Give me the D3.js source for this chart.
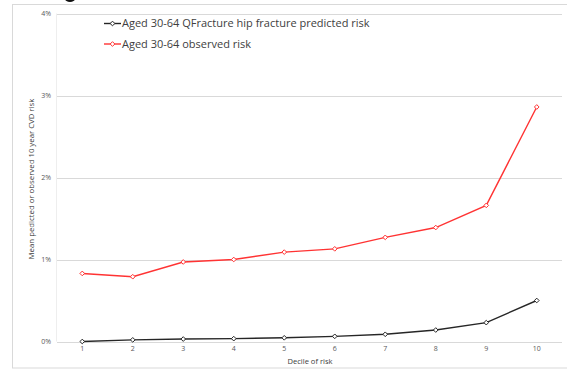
<!DOCTYPE html>
<html><head><meta charset="utf-8">
<script src="https://cdn.jsdelivr.net/npm/d3@7"></script>
<style>body{margin:0;background:#fff}svg{display:block}</style>
</head><body>
<script>
const deciles = [1,2,3,4,5,6,7,8,9,10];
const predicted = [0.0000,0.0002,0.0003,0.00035,0.00045,0.00063,0.00088,0.0014,0.0023,0.0050];
const observed = [0.0083,0.0079,0.0097,0.0100,0.0109,0.0113,0.0127,0.0139,0.0166,0.0286];
const yTicks = [0,0.01,0.02,0.03,0.04];
const seriesNames = ["Aged 30-64 QFracture hip fracture predicted risk","Aged 30-64 observed risk"];
const seriesColors = ["#262626","#ff3333"];

const W=567,H=369;
const svg=d3.select("body").append("svg").attr("width",W).attr("height",H);
const font="'Open Sans', Lato, sans-serif";

// outer chart border
svg.append("rect").attr("x",12.5).attr("y",4.5).attr("width",W).attr("height",363.5)
  .attr("fill","none").attr("stroke","#d9d9d9").attr("stroke-width",1);
// cut-off title glyph at top
svg.append("ellipse").attr("cx",70).attr("cy",-1).attr("rx",5).attr("ry",3).attr("fill","#111");

const x=d3.scaleBand().domain(deciles).range([57,562]);
const y=d3.scaleLinear().domain([0,0.04]).range([341.5,13.5]);

// gridlines
svg.append("g").selectAll("line").data(yTicks).join("line")
  .attr("x1",57).attr("x2",562).attr("y1",d=>Math.round(y(d))+0.5).attr("y2",d=>Math.round(y(d))+0.5)
  .attr("stroke","#d9d9d9").attr("stroke-width",1);
svg.append("line").attr("x1",56.5).attr("x2",56.5).attr("y1",y(0.04)).attr("y2",y(0))
  .attr("stroke","#eeeeee");

// y axis
const ya=svg.append("g").attr("transform","translate(51,0)")
  .call(d3.axisLeft(y).tickValues(yTicks).tickFormat(d3.format(".0%")).tickSize(0).tickPadding(0));
ya.select(".domain").remove();
ya.selectAll("text").attr("font-family",font).attr("font-size",7).attr("fill","#595959").attr("dy","0.32em");

// x axis
const xa=svg.append("g").attr("transform","translate(0,346)")
  .call(d3.axisBottom(x).tickSize(0).tickPadding(0));
xa.select(".domain").remove();
xa.selectAll("text").attr("font-family",font).attr("font-size",7).attr("fill","#595959").attr("dy","0.71em");

svg.append("text").attr("x",310).attr("y",364).attr("text-anchor","middle")
  .attr("font-family",font).attr("font-size",7.6).attr("fill","#404040").text("Decile of risk");
svg.append("text").attr("transform","translate(34,179) rotate(-90)").attr("text-anchor","middle")
  .attr("font-family",font).attr("font-size",7.8).attr("fill","#404040")
  .text("Mean pedicted or observed 10 year CVD risk");

const line=d3.line().x((d,i)=>x(deciles[i])+x.bandwidth()/2).y(d=>y(d));
const diamond=d3.symbol().type(d3.symbolDiamond2).size(14);
[observed,predicted].forEach((vals,k)=>{
  const idx = k===0?1:0;
  const c=seriesColors[idx];
  svg.append("path").datum(vals).attr("d",line).attr("fill","none").attr("stroke",c).attr("stroke-width",1.4);
  svg.append("g").selectAll("path").data(vals).join("path")
    .attr("transform",(d,i)=>`translate(${x(deciles[i])+x.bandwidth()/2},${y(d)})`)
    .attr("d",diamond).attr("fill","#fff").attr("stroke",c).attr("stroke-width",1);
});

// legend
seriesNames.forEach((n,i)=>{
  const ly=[23.5,44][i];
  const g=svg.append("g");
  g.append("line").attr("x1",104).attr("x2",121).attr("y1",ly).attr("y2",ly).attr("stroke",seriesColors[i]).attr("stroke-width",1.4);
  g.append("path").attr("transform",`translate(112.5,${ly})`).attr("d",diamond).attr("fill","#fff").attr("stroke",seriesColors[i]);
  g.append("text").attr("x",122).attr("y",ly).attr("dy","0.35em").attr("font-family",font)
    .attr("font-size",11).attr("fill","#404040").text(n);
});
</script>
</body></html>
